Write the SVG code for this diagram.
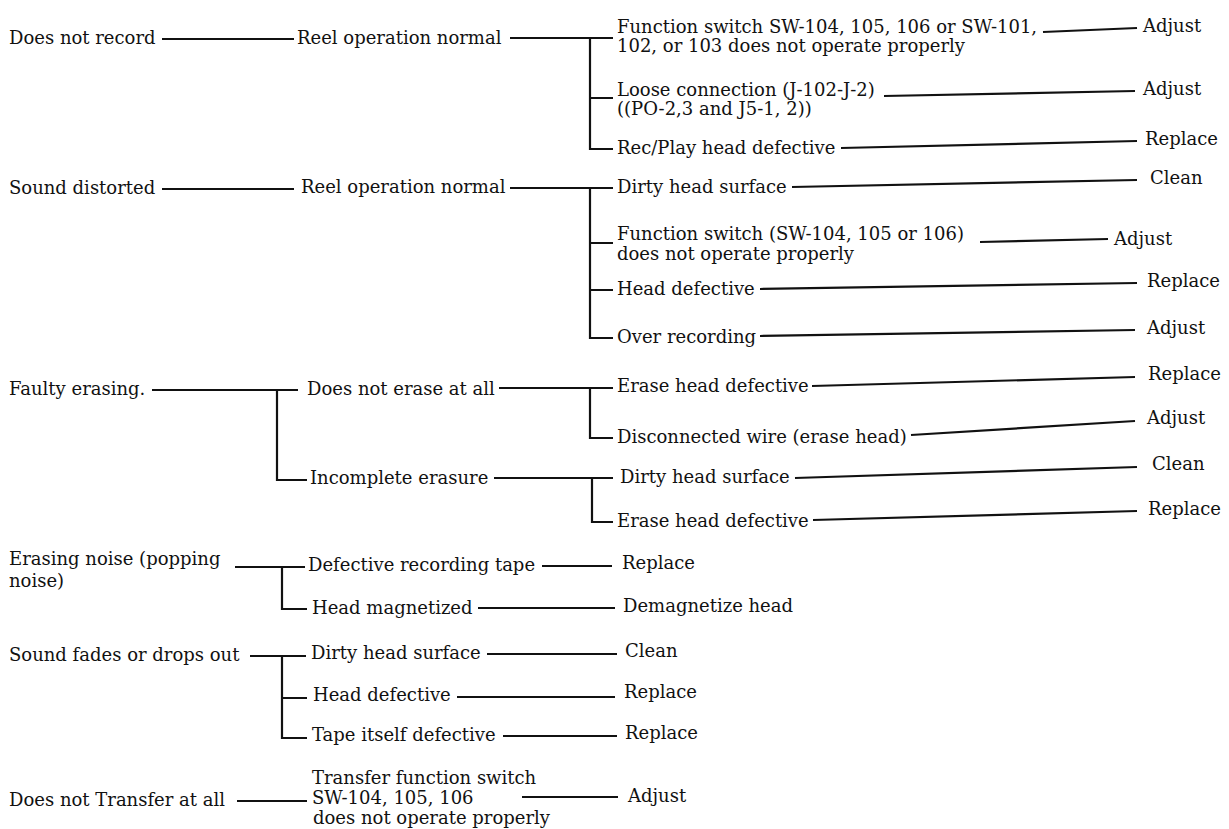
<svg xmlns="http://www.w3.org/2000/svg" width="1229" height="829" viewBox="0 0 1229 829">
<style>
.t{font-family:"DejaVu Serif","Liberation Serif",serif;font-size:18px;fill:#111}
.c{stroke:#111;stroke-width:2.2;fill:none}
</style>
<rect width="1229" height="829" fill="#fff"/>
<g id="connectors">
<path class="c" d="M162 39 H294"/>
<path class="c" d="M510 38 H613 M590 38 V149 H613 M590 98 H613"/>
<path class="c" d="M1043 32 L1137 28"/>
<path class="c" d="M884 96 L1135 91"/>
<path class="c" d="M841 148 L1137 141"/>
<path class="c" d="M162 189 H294"/>
<path class="c" d="M510 188 H613 M590 188 V338 H613 M590 243 H613 M590 290 H613"/>
<path class="c" d="M792 187 L1137 180"/>
<path class="c" d="M980 242 L1108 239"/>
<path class="c" d="M760 289 L1137 283"/>
<path class="c" d="M760 336 L1135 330"/>
<path class="c" d="M152 390 H298 M277 390 V480 H307"/>
<path class="c" d="M499 388 H613 M590 388 V438 H613"/>
<path class="c" d="M812 386 L1135 377"/>
<path class="c" d="M911 435 L1135 421"/>
<path class="c" d="M494 478 H613 M592 478 V522 H613"/>
<path class="c" d="M795 478 L1137 467"/>
<path class="c" d="M813 520 L1137 511"/>
<path class="c" d="M235 567 H305 M282 567 V609 H307"/>
<path class="c" d="M542 566 H612"/>
<path class="c" d="M478 608 H615"/>
<path class="c" d="M250 656 H306 M282 656 V738 H307 M282 698 H307"/>
<path class="c" d="M487 654 H617"/>
<path class="c" d="M457 697 H615"/>
<path class="c" d="M503 736 H617"/>
<path class="c" d="M237 801 H307"/>
<path class="c" d="M522 797 H618"/>
</g>
<g id="n-does-not-record"><text class="t" x="9" y="44">Does not record</text></g>
<g id="n-reel-1"><text class="t" x="297" y="44">Reel operation normal</text></g>
<g id="n-func-switch-1"><text class="t" x="617" y="33">Function switch SW-104, 105, 106 or SW-101,</text><text class="t" x="617" y="52">102, or 103 does not operate properly</text></g>
<g id="n-adjust-1"><text class="t" x="1143" y="32">Adjust</text></g>
<g id="n-loose"><text class="t" x="617" y="96">Loose connection (J-102-J-2)</text><text class="t" x="617" y="115">((PO-2,3 and J5-1, 2))</text></g>
<g id="n-adjust-2"><text class="t" x="1143" y="95">Adjust</text></g>
<g id="n-recplay"><text class="t" x="617" y="154">Rec/Play head defective</text></g>
<g id="n-replace-1"><text class="t" x="1145" y="145">Replace</text></g>
<g id="n-sound-distorted"><text class="t" x="9" y="194">Sound distorted</text></g>
<g id="n-reel-2"><text class="t" x="301" y="193">Reel operation normal</text></g>
<g id="n-dirty-1"><text class="t" x="617" y="193">Dirty head surface</text></g>
<g id="n-clean-1"><text class="t" x="1150" y="184">Clean</text></g>
<g id="n-func-switch-2"><text class="t" x="617" y="240">Function switch (SW-104, 105 or 106)</text><text class="t" x="617" y="260">does not operate properly</text></g>
<g id="n-adjust-3"><text class="t" x="1114" y="245">Adjust</text></g>
<g id="n-head-def-1"><text class="t" x="617" y="295">Head defective</text></g>
<g id="n-replace-2"><text class="t" x="1147" y="287">Replace</text></g>
<g id="n-over-rec"><text class="t" x="617" y="343">Over recording</text></g>
<g id="n-adjust-4"><text class="t" x="1147" y="334">Adjust</text></g>
<g id="n-faulty"><text class="t" x="9" y="395">Faulty erasing.</text></g>
<g id="n-not-erase"><text class="t" x="307" y="395">Does not erase at all</text></g>
<g id="n-erase-def-1"><text class="t" x="617" y="392">Erase head defective</text></g>
<g id="n-replace-3"><text class="t" x="1148" y="380">Replace</text></g>
<g id="n-disconnected"><text class="t" x="617" y="443">Disconnected wire (erase head)</text></g>
<g id="n-adjust-5"><text class="t" x="1147" y="424">Adjust</text></g>
<g id="n-incomplete"><text class="t" x="310" y="484">Incomplete erasure</text></g>
<g id="n-dirty-2"><text class="t" x="620" y="483">Dirty head surface</text></g>
<g id="n-clean-2"><text class="t" x="1152" y="470">Clean</text></g>
<g id="n-erase-def-2"><text class="t" x="617" y="527">Erase head defective</text></g>
<g id="n-replace-4"><text class="t" x="1148" y="515">Replace</text></g>
<g id="n-erasing-noise"><text class="t" x="9" y="565">Erasing noise (popping</text><text class="t" x="9" y="587">noise)</text></g>
<g id="n-def-tape"><text class="t" x="308" y="571">Defective recording tape</text></g>
<g id="n-replace-5"><text class="t" x="622" y="569">Replace</text></g>
<g id="n-head-mag"><text class="t" x="312" y="614">Head magnetized</text></g>
<g id="n-demag"><text class="t" x="623" y="612">Demagnetize head</text></g>
<g id="n-fades"><text class="t" x="9" y="661">Sound fades or drops out</text></g>
<g id="n-dirty-3"><text class="t" x="311" y="659">Dirty head surface</text></g>
<g id="n-clean-3"><text class="t" x="625" y="657">Clean</text></g>
<g id="n-head-def-2"><text class="t" x="313" y="701">Head defective</text></g>
<g id="n-replace-6"><text class="t" x="624" y="698">Replace</text></g>
<g id="n-tape-def"><text class="t" x="312" y="741">Tape itself defective</text></g>
<g id="n-replace-7"><text class="t" x="625" y="739">Replace</text></g>
<g id="n-not-transfer"><text class="t" x="9" y="806">Does not Transfer at all</text></g>
<g id="n-transfer-switch"><text class="t" x="312" y="784">Transfer function switch</text><text class="t" x="312" y="804">SW-104, 105, 106</text><text class="t" x="313" y="824">does not operate properly</text></g>
<g id="n-adjust-6"><text class="t" x="628" y="802">Adjust</text></g>
</svg>
